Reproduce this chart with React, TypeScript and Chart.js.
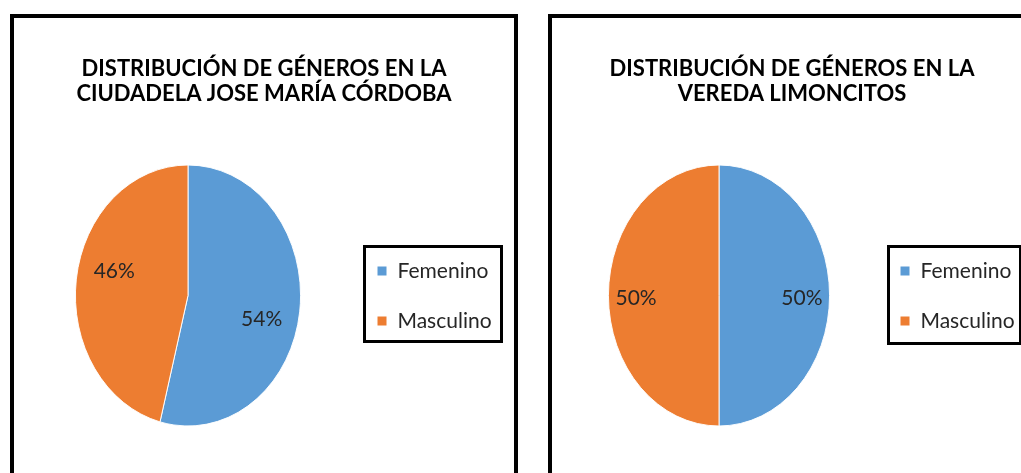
import React, { useEffect, useRef } from "react";
import { Chart, registerables } from "chart.js";

Chart.register(...registerables);

// ---- data ----
const categories = ["Femenino", "Masculino"];
const ciudadelaPercent = [54, 46];
const veredaPercent = [50, 50];
const ciudadelaTitle = ["DISTRIBUCIÓN DE GÉNEROS EN LA", "CIUDADELA JOSE MARÍA CÓRDOBA"];
const veredaTitle = ["DISTRIBUCIÓN DE GÉNEROS EN LA", "VEREDA LIMONCITOS"];
const sliceColors = ["#5B9BD5", "#ED7D31"];

// ---- styles / layout ----
const FONT = "Lato, 'Open Sans', sans-serif";
const TITLE_SIZE = 22;
const LEGEND_SIZE = 21;
const LABEL_SIZE = 21;
const ROW_SPACING = 50;
const LEGEND_PAD = ROW_SPACING - LEGEND_SIZE;
const FRAME_BORDER = 4;

type Spec = {
  frameLeft: number;
  frameTop: number;
  canvasW: number;
  canvasH: number;
  pie: { cx: number; cy: number; r: number; sx: number };
  labelFraction: number;
  legendBox: { left: number; top: number; right: number; bottom: number };
  legendItemsLeft: number;
  legendFirstRow: number;
};

const leftSpec: Spec = {
  frameLeft: 10,
  frameTop: 14,
  canvasW: 500,
  canvasH: 470,
  pie: { cx: 174, cy: 277.5, r: 131, sx: 113 / 131 },
  labelFraction: 0.66,
  legendBox: { left: 349, top: 227, right: 489, bottom: 325 },
  legendItemsLeft: 363,
  legendFirstRow: 253,
};

const rightSpec: Spec = {
  frameLeft: 548,
  frameTop: 14,
  canvasW: 480,
  canvasH: 470,
  pie: { cx: 167, cy: 277.5, r: 131, sx: 111 / 131 },
  labelFraction: 0.75,
  legendBox: { left: 335, top: 227, right: 470, bottom: 327 },
  legendItemsLeft: 348,
  legendFirstRow: 253,
};

function makePlugin(spec: Spec, values: number[]) {
  return {
    id: "manualLayout",
    afterLayout(chart: any) {
      const { cx, cy, r } = spec.pie;
      const ca = chart.chartArea;
      ca.left = cx - r;
      ca.right = cx + r;
      ca.top = cy - r;
      ca.bottom = cy + r;
      ca.width = 2 * r;
      ca.height = 2 * r;
      const lg = chart.legend;
      if (lg) {
        lg.left = spec.legendItemsLeft - LEGEND_PAD;
        lg.top = spec.legendFirstRow - LEGEND_SIZE / 2 - LEGEND_PAD;
        lg.width = 220;
        lg.right = lg.left + 220;
        lg.height = 300;
        lg.bottom = lg.top + 300;
      }
    },
    beforeDatasetsDraw(chart: any) {
      const ctx = chart.ctx;
      const arc = chart.getDatasetMeta(0).data[0];
      ctx.save();
      ctx.translate(arc.x, 0);
      ctx.scale(spec.pie.sx, 1);
      ctx.translate(-arc.x, 0);
    },
    afterDatasetsDraw(chart: any) {
      const ctx = chart.ctx;
      ctx.restore();
      const meta = chart.getDatasetMeta(0);
      ctx.save();
      ctx.font = `${LABEL_SIZE}px ${FONT}`;
      ctx.fillStyle = "#262626";
      ctx.textAlign = "center";
      ctx.textBaseline = "middle";
      meta.data.forEach((el: any, i: number) => {
        const p = el.getProps(["x", "y", "startAngle", "endAngle", "outerRadius"], true);
        const mid = (p.startAngle + p.endAngle) / 2;
        const d = p.outerRadius * spec.labelFraction;
        const s = Math.sin(mid);
        const x = p.x + Math.cos(mid) * d * spec.pie.sx;
        const shift = Math.abs(s) > 0.02 ? Math.sign(s) * LABEL_SIZE * 0.62 : LABEL_SIZE * 0.12;
        const y = p.y + s * d + shift;
        ctx.fillText(`${values[i]}%`, x, y);
      });
      ctx.restore();
    },
    afterDraw(chart: any) {
      const ctx = chart.ctx;
      const b = spec.legendBox;
      ctx.save();
      ctx.strokeStyle = "#000";
      ctx.lineWidth = 3;
      ctx.strokeRect(b.left + 1.5, b.top + 1.5, b.right - b.left - 3, b.bottom - b.top - 3);
      ctx.restore();
    },
  };
}

function PiePanel({ spec, title, values }: { spec: Spec; title: string[]; values: number[] }) {
  const ref = useRef<HTMLCanvasElement>(null);
  useEffect(() => {
    const canvas = ref.current!;
    const chart = new Chart(canvas, {
      type: "pie",
      data: {
        labels: categories,
        datasets: [
          {
            data: values,
            backgroundColor: sliceColors,
            borderColor: "#ffffff",
            borderWidth: 1,
          },
        ],
      },
      options: {
        responsive: false,
        animation: false,
        devicePixelRatio: 1,
        layout: { padding: 0 },
        plugins: {
          title: {
            display: true,
            text: title,
            color: "#000",
            font: { family: FONT, size: TITLE_SIZE, weight: "bold", lineHeight: 1.11 },
            padding: { top: 39, bottom: 10 },
          },
          legend: {
            display: true,
            position: "right",
            align: "start",
            labels: {
              boxWidth: 10,
              boxHeight: 10,
              padding: LEGEND_PAD,
              color: "#262626",
              font: { family: FONT, size: LEGEND_SIZE },
            },
          },
          tooltip: { enabled: false },
        },
      } as any,
      plugins: [makePlugin(spec, values)],
    });
    return () => chart.destroy();
  }, []);
  return (
    <div
      style={{
        position: "absolute",
        left: spec.frameLeft,
        top: spec.frameTop,
        width: spec.canvasW,
        height: spec.canvasH,
        border: `${FRAME_BORDER}px solid #000`,
        background: "#fff",
      }}
    >
      <canvas ref={ref} width={spec.canvasW} height={spec.canvasH} style={{ display: "block" }} />
    </div>
  );
}

export default function App() {
  return (
    <div
      style={{
        position: "fixed",
        left: 0,
        top: 0,
        width: 1021,
        height: 473,
        overflow: "hidden",
        background: "#fff",
      }}
    >
      <PiePanel spec={leftSpec} title={ciudadelaTitle} values={ciudadelaPercent} />
      <PiePanel spec={rightSpec} title={veredaTitle} values={veredaPercent} />
    </div>
  );
}
